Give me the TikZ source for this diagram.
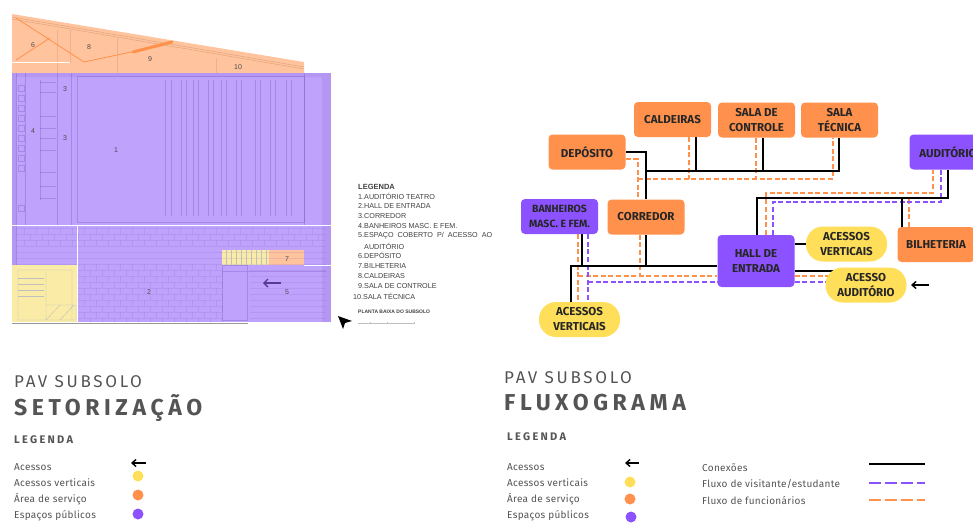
\documentclass[tikz,border=0pt]{standalone}
\usepackage{fontspec}
\setmainfont{Fira Sans}
\newfontfamily\plantafont{Liberation Sans}
\usetikzlibrary{backgrounds,arrows.meta}
\definecolor{laranja}{HTML}{FF914D}
\definecolor{roxo}{HTML}{8C52FF}
\definecolor{amarelo}{HTML}{FFDE59}
\definecolor{cinza}{HTML}{545454}
\definecolor{zonalaranja}{HTML}{FFC49E}
\definecolor{zonaroxo}{HTML}{BFA2FC}
\definecolor{zonaamarelo}{HTML}{FAEBA6}
\definecolor{traco}{HTML}{6A4BB8}
\tikzset{
  caixa/.style={minimum width=77pt,minimum height=35pt,inner sep=0pt,rounded corners=4pt,align=center,
    text=black!85,font=\fontsize{11.5}{15}\selectfont\bfseries},
  servico/.style={caixa,fill=laranja},
  publico/.style={caixa,fill=roxo},
  vertical/.style={caixa,fill=amarelo,minimum width=81pt,rounded corners=17pt},
  conexao/.style={black,line width=2pt},
  funcionario/.style={laranja,line width=1.5pt,dash pattern=on 5pt off 2.6pt},
  visitante/.style={roxo,line width=1.5pt,dash pattern=on 5pt off 2.6pt},
  planta/.style={traco,opacity=.3,line width=.5pt},
  piso/.style={traco,opacity=.13,line width=.5pt},
  numero/.style={font=\plantafont\fontsize{7}{8}\selectfont,text=black!70,inner sep=0pt},
  nota/.style={anchor=west,inner sep=0pt,font=\plantafont\fontsize{7.2}{8}\selectfont,text=black!75},
  titulo/.style={anchor=west,inner sep=0pt,text=cinza},
  item/.style={anchor=west,inner sep=0pt,text=cinza,font=\fontsize{10}{12}\selectfont\addfontfeature{LetterSpace=3}},
  seta/.style={black,line width=1.4pt,-{Straight Barb[length=4pt,width=7pt]}},
  ponto/.style={circle,inner sep=0pt,minimum size=11pt}
}
\begin{document}
\begin{tikzpicture}[x=1pt,y=-1pt]
  \useasboundingbox (0,0) rectangle (973,522);

  % PLANTA
  % zonas
  \fill[zonalaranja] (12,14) -- (304,62) -- (304,73) -- (12,73) -- cycle;
  \fill[zonaroxo] (12,73) rectangle (331,322);
  \fill[zonaamarelo] (12,265) rectangle (77,322);
  \fill[zonaamarelo] (222,250) rectangle (269,265);
  \fill[zonalaranja] (269,250) rectangle (304,265);
  \fill[traco,opacity=.12] (12,73) rectangle (16,265) (322,73) rectangle (331,322) (16,73) rectangle (322,77);

  % paredes e linhas
  \draw[laranja!70!black,opacity=.35,line width=.5pt] (12,17) -- (304,67) (12,19) -- (304,69);
  \draw[laranja!70!black,opacity=.2,line width=.5pt] (57,30) -- (57,73) (70,30) -- (70,63) (117,38) -- (117,73) (216,58) -- (216,73);
  \draw[laranja,line width=.8pt] (16,18) -- (84,62) -- (150,48) (50,38) -- (16,60);
  \draw[laranja,line width=3pt,line cap=round] (133,52) -- (172,42);
  \draw[white,line width=.7pt] (12,62) -- (70,62);
  \draw[planta,line width=1pt] (77,76) rectangle (304,222);
  \draw[planta] (16,73) -- (16,265) (304,73) -- (304,225);
  \foreach \x in {165,171,181,186,193,198,208,213,221,226,236,241,255,260,270,275,286,291}{
    \draw[planta] (\x,80) -- (\x,216);
  }
  \foreach \y in {82,92,116,128,138,150,172,186,198}{
    \draw[planta] (40,\y) -- (56,\y);
  }
  \foreach \y in {85,95,105,115,125,135,145,155,165,205}{
    \draw[planta] (18,\y) rectangle (24,\y+6);
  }
  \draw[planta] (25,73) -- (25,225) (40,80) -- (40,200) (57,73) -- (57,225) (71,73) -- (71,225);
  % piso
  \foreach \y in {228,234,...,264}{
    \draw[piso] (16,\y) -- (326,\y);
  }
  \foreach \y in {270,276,...,320}{
    \draw[piso] (77,\y) -- (222,\y) (250,\y) -- (326,\y);
  }
  \foreach \x in {84,96,...,216}{
    \foreach \y in {264,276,...,312}{
      \draw[piso] (\x,\y) -- (\x,\y+6) (\x+6,\y+6) -- (\x+6,\y+12);
    }
  }
  \foreach \x in {24,36,...,312}{
    \draw[piso] (\x,228) -- (\x,234) (\x+6,234) -- (\x+6,240) (\x,240) -- (\x,246);
  }
  % escadas
  \foreach \x in {226,231,...,266}{
    \draw[black!25,line width=.3pt] (\x,250) -- (\x,265);
  }
  \foreach \y in {278,284,...,298}{
    \draw[black!25,line width=.3pt] (18,\y) -- (44,\y);
  }
  \draw[black!25,line width=.4pt] (18,270) rectangle (72,320) (46,272) -- (46,305) (46,305) rectangle (76,320) (46,320) -- (60,305) (60,320) -- (74,305);
  \draw[planta] (222,265) rectangle (247,320) (222,271) -- (326,271);
  \draw[white,line width=.7pt] (12,225) -- (331,225) (304,265) -- (331,265) (77,225) -- (77,322);
  \draw[black!40,line width=.5pt] (12,323) -- (248,323);
  \draw[traco!80!black,line width=1.4pt,-{Straight Barb[length=4pt,width=8pt]}] (281,283) -- (263,283);

  % numeros
  \node[numero] (n6) at (33,45) {6};
  \node[numero] (n8) at (89,47) {8};
  \node[numero] (n9) at (150,59) {9};
  \node[numero] (n10) at (238,67) {10};
  \node[numero] (n3a) at (65,89) {3};
  \node[numero] (n3b) at (65,138) {3};
  \node[numero] (n4) at (33,131) {4};
  \node[numero] (n1) at (116,150) {1};
  \node[numero] (n2) at (149,292) {2};
  \node[numero] (n7) at (287,259) {7};
  \node[numero] (n5) at (287,292) {5};

  % NOTAS DA PLANTA
  \node[nota,font=\plantafont\fontsize{7.5}{8}\selectfont\bfseries] (legplanta) at (358,187) {LEGENDA};
  \node[nota] (l1) at (358,196) {1.AUDITÓRIO TEATRO};
  \node[nota] (l2) at (358,206) {2.HALL DE ENTRADA};
  \node[nota] (l3) at (358,216) {3.CORREDOR};
  \node[nota] (l4) at (358,226) {4.BANHEIROS MASC. E FEM.};
  \node[nota] (l5) at (358,236) {5.ESPAÇO\ \ COBERTO\ \ P/\ \ ACESSO\ \ AO};
  \node[nota] (l5b) at (364,246) {AUDITÓRIO};
  \node[nota] (l6) at (358,255) {6.DEPÓSITO};
  \node[nota] (l7) at (358,266) {7.BILHETERIA};
  \node[nota] (l8) at (358,276) {8.CALDEIRAS};
  \node[nota] (l9) at (358,286) {9.SALA DE CONTROLE};
  \node[nota] (l10) at (353,296) {10.SALA TÉCNICA};
  \node[nota,font=\plantafont\fontsize{5}{6}\selectfont\bfseries] (plantabaixa) at (358,312) {PLANTA BAIXA DO SUBSOLO};
  \draw[black!25,line width=.4pt] (358,323) -- (414,323) (370,322) -- (370,324) (387,322) -- (387,324) (414,322) -- (414,324);
  \fill[black] (338,316) -- (352,321) -- (345,323) -- (343,329) -- cycle;

  % FLUXOGRAMA
  % nos
  \node[servico] (caldeiras) at (672.5,119.5) {CALDEIRAS};
  \node[servico] (controle) at (756.5,120) {SALA DE\\CONTROLE};
  \node[servico] (tecnica) at (839.5,120) {SALA\\TÉCNICA};
  \node[servico] (deposito) at (587,152) {DEPÓSITO};
  \node[servico] (corredor) at (646,217) {CORREDOR};
  \node[publico,font=\fontsize{10.5}{15}\selectfont\bfseries] (banheiros) at (559.5,216.5) {BANHEIROS\\MASC. E FEM.};
  \node[publico] (auditorio) at (948,152) {AUDITÓRIO};
  \node[publico,minimum height=52pt] (hall) at (756,261) {HALL DE\\ENTRADA};
  \node[servico] (bilheteria) at (936,244.5) {BILHETERIA};
  \node[vertical] (vertdir) at (846.5,244) {ACESSOS\\VERTICAIS};
  \node[vertical] (acesso) at (866,285) {ACESSO\\AUDITÓRIO};
  \node[vertical] (vertesq) at (579.5,319.5) {ACESSOS\\VERTICAIS};

  % juncoes
  \coordinate (tronco) at (646,171);
  \coordinate (trancor) at (646,266);
  \coordinate (tranesq) at (571,266);
  \coordinate (trhall) at (757,198);
  \coordinate (laranjatopo) at (638,179);
  \coordinate (laranjaesq) at (578,276);
  \coordinate (roxoesq) at (588,282);
  \coordinate (laranjahall) at (766,193);
  \coordinate (roxohall) at (773,202);
  \coordinate (laranjacor) at (640,276);

  % CONEXOES
  \begin{scope}[on background layer]
    \draw[funcionario] (deposito.east |- 0,159) -| (corredor.north -| laranjatopo);
    \draw[funcionario] (laranjatopo) -- (833,179) -- (tecnica.south -| 833,0);
    \draw[funcionario] (caldeiras.south -| 689,0) -- (689,179);
    \draw[funcionario] (controle.south -| 756,0) -- (756,179);
    \draw[funcionario] (corredor.south -| laranjacor) -- (laranjacor);
    \draw[funcionario] (banheiros.south -| laranjaesq) -- (vertesq.north -| laranjaesq);
    \draw[funcionario] (laranjaesq) -- (hall.west |- laranjaesq);
    \draw[visitante] (banheiros.south -| roxoesq) -- (vertesq.north -| roxoesq);
    \draw[visitante] (roxoesq) -- (hall.west |- roxoesq);
    \draw[funcionario] (hall.north -| laranjahall) -- (laranjahall) -- (933,193) -- (auditorio.south -| 933,0);
    \draw[funcionario] (bilheteria.north -| 909,0) -- (909,198);
    \draw[visitante] (hall.north -| roxohall) -- (roxohall) -- (941,202) -- (auditorio.south -| 941,0);
    \draw[funcionario] (hall.east |- 0,276) -- (acesso.center |- 0,276);
    \draw[visitante] (hall.east |- 0,282) -- (acesso.center |- 0,282);

    \draw[conexao] (deposito.east) -| (corredor.north);
    \draw[conexao] (tronco) -- (839,171) -- (tecnica.south -| 839,0);
    \draw[conexao] (caldeiras.south -| 696,0) -- (696,171);
    \draw[conexao] (controle.south -| 763,0) -- (763,171);
    \draw[conexao] (corredor.south) -- (corredor.south |- trancor);
    \draw[conexao] (vertesq.north -| tranesq) -- (tranesq) -- (hall.west |- tranesq);
    \draw[conexao] (banheiros.south -| 582,0) -- (582,266);
    \draw[conexao] (hall.north -| trhall) -- (trhall) -- (948,198) -- (auditorio.south -| 948,0);
    \draw[conexao] (bilheteria.north -| 902,0) -- (902,198);
    \draw[conexao] (hall.east |- vertdir) -- (vertdir);
    \draw[conexao] (hall.east |- 0,271) -- (acesso.center |- 0,271);
  \end{scope}
  \coordinate (setafim) at (911,285);
  \draw[seta] (929,285) -- (setafim);

  % TITULOS
  \node[titulo,font=\fontsize{17}{18}\selectfont\addfontfeature{LetterSpace=16}] (pavset) at (14,382) {PAV SUBSOLO};
  \node[titulo,font=\fontsize{23}{26}\selectfont\bfseries\addfontfeature{LetterSpace=20}] (setor) at (14,408) {SETORIZAÇÃO};
  \node[titulo,font=\fontsize{11}{12}\selectfont\bfseries\addfontfeature{LetterSpace=21}] (legset) at (14,440) {LEGENDA};
  \node[titulo,font=\fontsize{17}{18}\selectfont\addfontfeature{LetterSpace=16}] (pavflu) at (504,378) {PAV SUBSOLO};
  \node[titulo,font=\fontsize{23}{26}\selectfont\bfseries\addfontfeature{LetterSpace=20}] (fluxo) at (504,403) {FLUXOGRAMA};
  \node[titulo,font=\fontsize{11}{12}\selectfont\bfseries\addfontfeature{LetterSpace=21}] (legflu) at (507,437) {LEGENDA};

  % LEGENDAS
  \node[item] (a1) at (14,467) {Acessos};
  \node[item] (a2) at (14,483) {Acessos verticais};
  \node[item] (a3) at (14,499.5) {Área de serviço};
  \node[item] (a4) at (14,516) {Espaços públicos};
  \draw[seta] (146,463) -- (131,463);
  \node[ponto,fill=amarelo] (p2) at (138,476) {};
  \node[ponto,fill=laranja] (p3) at (138,495) {};
  \node[ponto,fill=roxo] (p4) at (138,514) {};

  \node[item] (b1) at (507,467) {Acessos};
  \node[item] (b2) at (507,483) {Acessos verticais};
  \node[item] (b3) at (507,499.5) {Área de serviço};
  \node[item] (b4) at (507,516) {Espaços públicos};
  \draw[seta] (639,463) -- (625,463);
  \node[ponto,fill=amarelo] (q2) at (630,482) {};
  \node[ponto,fill=laranja] (q3) at (630,499) {};
  \node[ponto,fill=roxo] (q4) at (631,517) {};

  \node[item] (c1) at (702,468) {Conexões};
  \node[item] (c2) at (702,484) {Fluxo de visitante/estudante};
  \node[item] (c3) at (702,500.5) {Fluxo de funcionários};
  \coordinate (r1a) at (869,464);
  \coordinate (r1b) at (925,464);
  \coordinate (r2a) at (869,483);
  \coordinate (r2b) at (925,483);
  \coordinate (r3a) at (869,500);
  \coordinate (r3b) at (925,500);
  \draw[black,line width=2.4pt] (r1a) -- (r1b);
  \draw[roxo,line width=2.4pt,dash pattern=on 12pt off 4pt] (r2a) -- (r2b);
  \draw[laranja,line width=2.4pt,dash pattern=on 12pt off 4pt] (r3a) -- (r3b);
\end{tikzpicture}
\end{document}
